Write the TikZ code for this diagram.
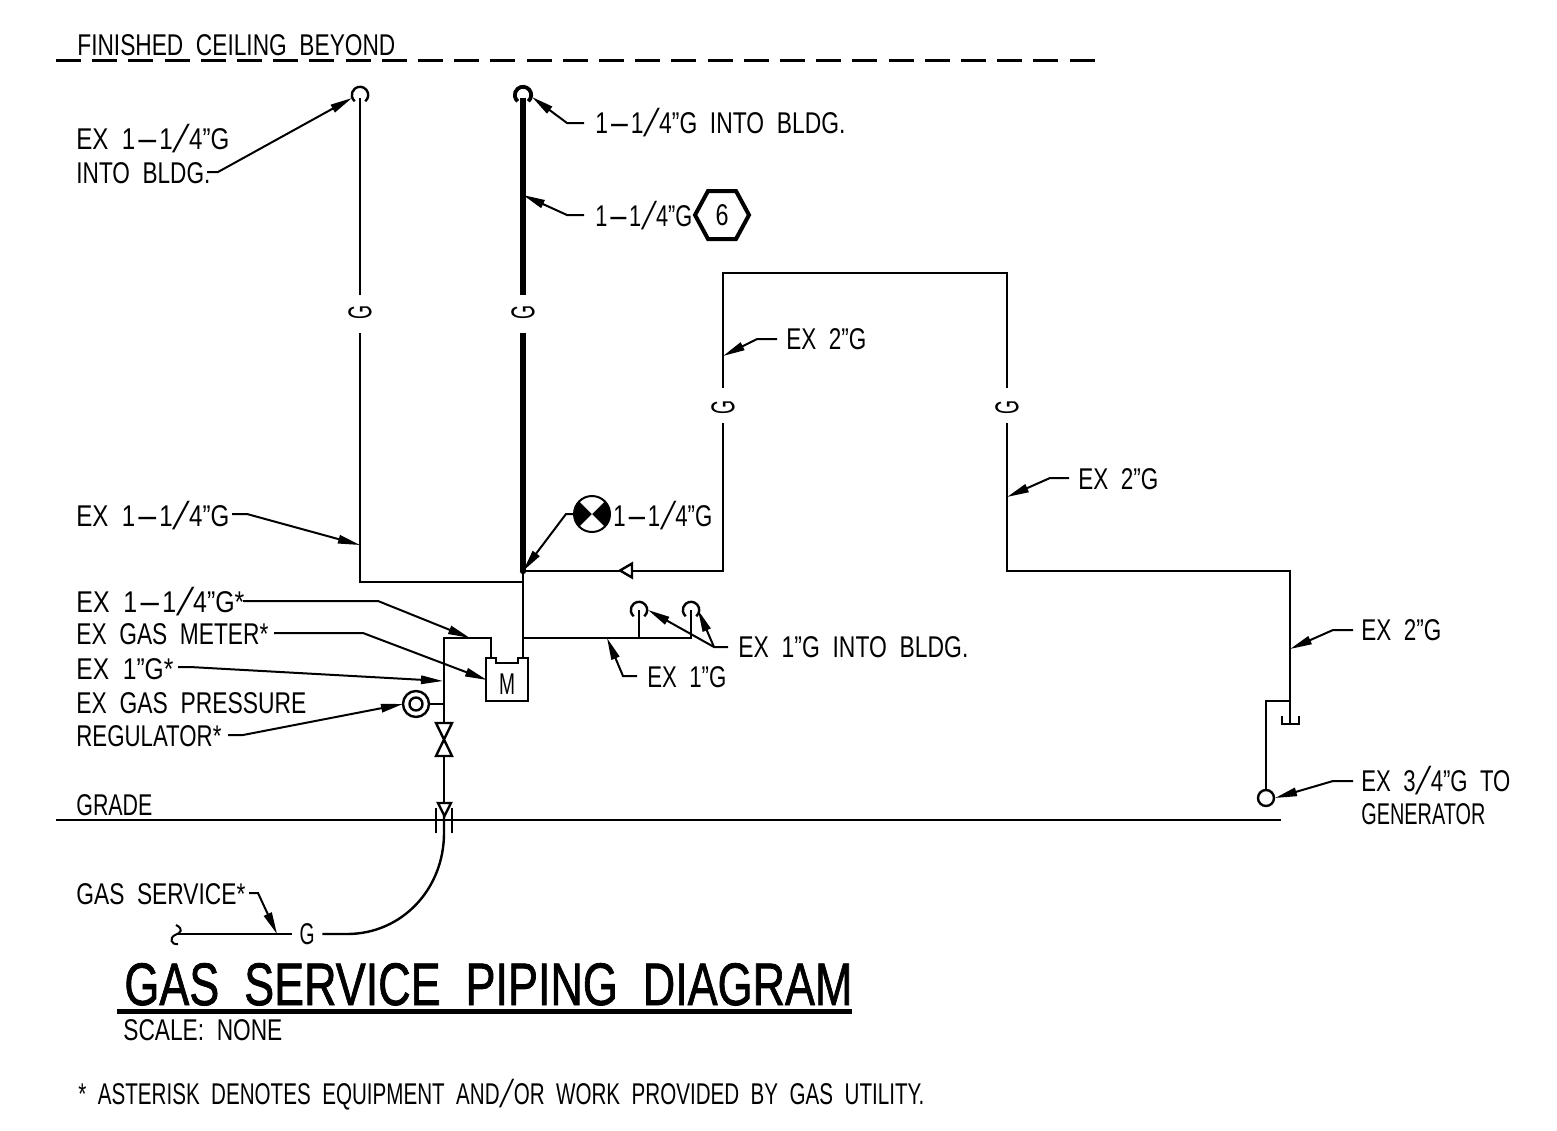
\documentclass[tikz,border=0pt]{standalone}
\usepackage{fontspec}
\usetikzlibrary{arrows.meta}
\newfontfamily\cad[WordSpace=2.0]{Liberation Sans}
\newfontfamily\cadb[WordSpace=2.0,FakeBold=1.4]{Liberation Sans}
\newfontfamily\cadsl[FakeSlant=0.4]{Liberation Sans}
\newcommand\hy{\scalebox{3}[1]{-}}
\newcommand\sla{\raisebox{-0.1em}{\scalebox{1.3}[1.3]{\cadsl /}}\kern.32em}
\newsavebox\fitbox
\newcommand\fitw[2]{\sbox\fitbox{#2}\pgfmathsetmacro\fitr{(#1*0.5)/\the\wd\fitbox}\scalebox{\fitr}[1]{\usebox\fitbox}}
\tikzset{
  lbl/.style={anchor=base west,inner sep=0pt,font=\cad\fontsize{15}{18}\selectfont},
  pipe/.style={draw=black,line width=1.2pt,line cap=butt,line join=miter},
  thickpipe/.style={draw=black,line width=2.6pt},
  sym/.style={draw=black,line width=1.2pt},
  ldr/.style={draw=black,line width=1pt,-{Triangle[length=11pt,width=4.2pt]}},
  gap/.style={inner sep=0pt,minimum height=4pt,minimum width=#1},
  gtxt/.style={inner sep=0pt,font=\cad\fontsize{15}{18}\selectfont},
  gvtxt/.style={inner sep=0pt,rotate=90,font=\cad\fontsize{16.5}{18}\selectfont}
}
\begin{document}
\begin{tikzpicture}[x=0.5pt,y=-0.5pt]
\useasboundingbox (0,0) rectangle (1557,1130);
\fill[white] (0,0) rectangle (1557,1130);
% reference lines
\coordinate (dashL) at (56,60.5); \coordinate (dashR) at (1095,60.5);
\draw[line width=1.2pt,dash pattern=on 12.5pt off 5.6pt] (dashL) -- (dashR);
\coordinate (gradeL) at (56,820); \coordinate (gradeR) at (1281,820);
\draw[line width=1.1pt] (gradeL) -- (gradeR);
% G markers
\node[gap=19pt,rotate=90] (g1) at (360,314) {};
\node[gap=19pt,rotate=90] (g2) at (523,314) {};
\node[gap=17.5pt,rotate=90] (g3) at (723,405.5) {};
\node[gap=17.5pt,rotate=90] (g4) at (1007,405.5) {};
\node[gap=15pt] (g5) at (307,934) {};
\node[gvtxt] (g1t) at (360,312) {\fitw{14}{G}};
\node[gvtxt] (g2t) at (523,312) {\fitw{14}{G}};
\node[gvtxt] (g3t) at (723,407) {\fitw{14}{G}};
\node[gvtxt] (g4t) at (1007,407) {\fitw{14}{G}};
\node[gtxt] (g5t) at (307,934) {\fitw{15}{G}};
% pipe junctions
\coordinate (a1) at (360,98); \coordinate (a2) at (360,582); \coordinate (a3) at (523,582);
\coordinate (b1) at (523,98); \coordinate (b2) at (523,571); \coordinate (b3) at (523,658);
\coordinate (c1) at (723,571); \coordinate (c2) at (723,273); \coordinate (c3) at (1007,273);
\coordinate (c4) at (1007,571); \coordinate (c5) at (1290,571); \coordinate (c6) at (1290,701);
\coordinate (c7) at (1290,723); \coordinate (c8) at (1266,701); \coordinate (c9) at (1266,790);
\coordinate (d1) at (523,638); \coordinate (d2) at (691,638); \coordinate (d3) at (691,610);
\coordinate (d4) at (639,638); \coordinate (d5) at (639,610);
\coordinate (e1) at (491,658); \coordinate (e2) at (491,638); \coordinate (e3) at (444,638);
\coordinate (e4) at (444,723); \coordinate (e5) at (444,756); \coordinate (e6) at (444,803);
\coordinate (e7) at (444,833); \coordinate (e8) at (347,934); \coordinate (e9) at (178,934);
\coordinate (r1) at (429,704); \coordinate (r2) at (444,704);
% pipes
\path[pipe] (a1) -- (g1); \path[pipe] (g1) -- (a2) -- (a3);
\path[thickpipe] (b1) -- (g2); \path[thickpipe] (g2) -- (b2);
\path[pipe] (b2) -- (b3);
\path[pipe] (b2) -- (c1) -- (g3); \path[pipe] (g3) -- (c2) -- (c3) -- (g4);
\path[pipe] (g4) -- (c4) -- (c5) -- (c7);
\path[pipe] (c6) -- (c8) -- (c9);
\path[pipe] (d1) -- (d2) -- (d3); \path[pipe] (d4) -- (d5);
\path[pipe] (e1) -- (e2) -- (e3) -- (e4); \path[pipe] (e5) -- (e6);
\path[pipe] (e6) -- (e7) .. controls (444,889) and (402,934) .. (e8) -- (g5);
\path[pipe] (g5) -- (e9);
\path[pipe] (r1) -- (r2);
% pipe-end symbols
\draw[sym] ([shift={(310:4.1pt)}]360,95) arc[start angle=310,end angle=590,radius=4.1pt];
\draw[line width=1.9pt] ([shift={(310:4.1pt)}]523,95) arc[start angle=310,end angle=590,radius=4.1pt];
\draw[sym] ([shift={(310:4.1pt)}]639,610) arc[start angle=310,end angle=590,radius=4.1pt];
\draw[sym] ([shift={(310:4.1pt)}]691,610) arc[start angle=310,end angle=590,radius=4.1pt];
% cap
\draw[sym] (1282,716) -- (1282,724) -- (1299,724) -- (1299,716);
% outlet
\node[circle,draw,line width=1.2pt,minimum size=8pt,inner sep=0pt,fill=white] (gen) at (1266,798) {};
% meter
\draw[sym] (486,658) -- (496,658) -- (496,663) -- (518,663) -- (518,658) -- (528,658) -- (528,701) -- (486,701) -- cycle;
\node[gtxt] (meter) at (507,684) {\fitw{16}{M}};
% regulator
\node[circle,draw,line width=1.2pt,minimum size=13pt,inner sep=0pt,fill=white] (reg) at (416,704) {};
\node[circle,draw,line width=1.2pt,minimum size=6.5pt,inner sep=0pt] (regi) at (416,704) {};
% valve
\draw[sym] (436,723) -- (452,723) -- (436,756) -- (452,756) -- cycle;
% check valve and flange
\draw[sym,fill=white] (438,803) -- (451,803) -- (444.5,816) -- cycle;
\draw[sym] (436,808) -- (436,833); \draw[sym] (452,808) -- (452,833);
% flow triangle
\draw[sym,fill=white] (620,570.5) -- (632,563.5) -- (632,577.5) -- cycle;
% break
\draw[line width=1pt] (176,925) .. controls (184,929) and (181,933) .. (175,935) .. controls (169,938) and (171,945) .. (178,944);
% junction dot
\fill (523,571) circle[radius=1.6pt];
% balancing symbol
\coordinate (sy) at (592,514);
\fill[black] (sy) circle[radius=9pt];
\fill[white] (sy) -- ++(45:9pt) arc[start angle=45,end angle=135,radius=9pt] -- cycle;
\fill[white] (sy) -- ++(225:9pt) arc[start angle=225,end angle=315,radius=9pt] -- cycle;
\draw[line width=1pt] (sy) circle[radius=9pt];
% hexagon
\draw[line width=2pt] (695,215) -- (708,191) -- (736,191) -- (749,215) -- (736,239) -- (708,239) -- cycle;
\node[gtxt] (six) at (722,215) {\fitw{13}{6}};
% title
\coordinate (ulL) at (117,1011.5); \coordinate (ulR) at (852,1011.5);
\draw[line width=2.6pt] (ulL) -- (ulR);
\node[lbl,font=\cadb\fontsize{30}{34}\selectfont] (title) at (124,1005) {\fitw{728}{GAS SERVICE PIPING DIAGRAM}};
% labels
\node[lbl] (t1) at (77,55) {\fitw{318}{FINISHED CEILING BEYOND}};
\node[lbl] (t2) at (76,149) {\fitw{153}{EX 1\hy1\sla4”G}};
\node[lbl] (t3) at (76,183) {\fitw{134}{INTO BLDG.}};
\node[lbl] (t4) at (595,133) {\fitw{250}{1\hy1\sla4”G INTO BLDG.}};
\node[lbl] (t5) at (595,226) {\fitw{97}{1\hy1\sla4”G}};
\node[lbl] (t6) at (786,349) {\fitw{80}{EX 2”G}};
\node[lbl] (t7) at (1078,489) {\fitw{80}{EX 2”G}};
\node[lbl] (t8) at (76,526) {\fitw{153}{EX 1\hy1\sla4”G}};
\node[lbl] (t9) at (613,526) {\fitw{99}{1\hy1\sla4”G}};
\node[lbl] (t10) at (76,612) {\fitw{168}{EX 1\hy1\sla4”G*}};
\node[lbl] (t11) at (76,644) {\fitw{192}{EX GAS METER*}};
\node[lbl] (t12) at (76,679) {\fitw{97}{EX 1”G*}};
\node[lbl] (t13) at (76,713) {\fitw{230}{EX GAS PRESSURE}};
\node[lbl] (t14) at (76,746) {\fitw{145}{REGULATOR*}};
\node[lbl] (t15) at (647,687) {\fitw{79}{EX 1”G}};
\node[lbl] (t16) at (738,657) {\fitw{230}{EX 1”G INTO BLDG.}};
\node[lbl] (t17) at (1361,640) {\fitw{80}{EX 2”G}};
\node[lbl] (t18) at (1361,791) {\fitw{149}{EX 3\sla4”G TO}};
\node[lbl] (t19) at (1361,824) {\fitw{124}{GENERATOR}};
\node[lbl] (t20) at (76,815) {\fitw{76}{GRADE}};
\node[lbl] (t21) at (76,904) {\fitw{169}{GAS SERVICE*}};
\node[lbl] (t22) at (123,1040) {\fitw{159}{SCALE: NONE}};
\node[lbl] (t23) at (78,1104) {\fitw{846}{* ASTERISK DENOTES EQUIPMENT AND\sla OR WORK PROVIDED BY GAS UTILITY.}};
% leader targets
\coordinate (p1) at (352,98); \coordinate (p2) at (532,97); \coordinate (p3) at (523,195);
\coordinate (p4) at (723,356); \coordinate (p5) at (1007,497); \coordinate (p6) at (360,545);
\coordinate (p7) at (523,571); \coordinate (p8) at (470,638); \coordinate (p9) at (487,680);
\coordinate (p10) at (443,681); \coordinate (p11) at (403,704); \coordinate (p12) at (607,638);
\coordinate (p13) at (648,610); \coordinate (p14) at (698,610); \coordinate (p15) at (1290,649);
\coordinate (p16) at (1275,798); \coordinate (p17) at (277,934);
% leaders
\draw[ldr] (207,172) -- (218,172) -- (p1);
\draw[ldr] (584,123) -- (567,123) -- (p2);
\draw[ldr] (584,215) -- (567,215) -- (p3);
\draw[ldr] (777,339) -- (757,339) -- (p4);
\draw[ldr] (1069,478) -- (1050,478) -- (p5);
\draw[ldr] (232,514) -- (247,514) -- (p6);
\draw[ldr] (574,514) -- (566,514) -- (p7);
\draw[ldr] (243,601) -- (378,601) -- (p8);
\draw[ldr] (274,633) -- (363,633) -- (p9);
\draw[ldr] (178,667) -- (190,667) -- (p10);
\draw[ldr] (228,735) -- (243,735) -- (p11);
\draw[ldr] (637,676) -- (623,676) -- (p12);
\draw[ldr] (728,647) -- (714,647) -- (p13);
\draw[ldr] (714,647) -- (p14);
\draw[ldr] (1353,630) -- (1333,630) -- (p15);
\draw[ldr] (1353,781) -- (1333,781) -- (p16);
\draw[ldr] (249,893) -- (258,893) -- (p17);
\end{tikzpicture}
\end{document}
